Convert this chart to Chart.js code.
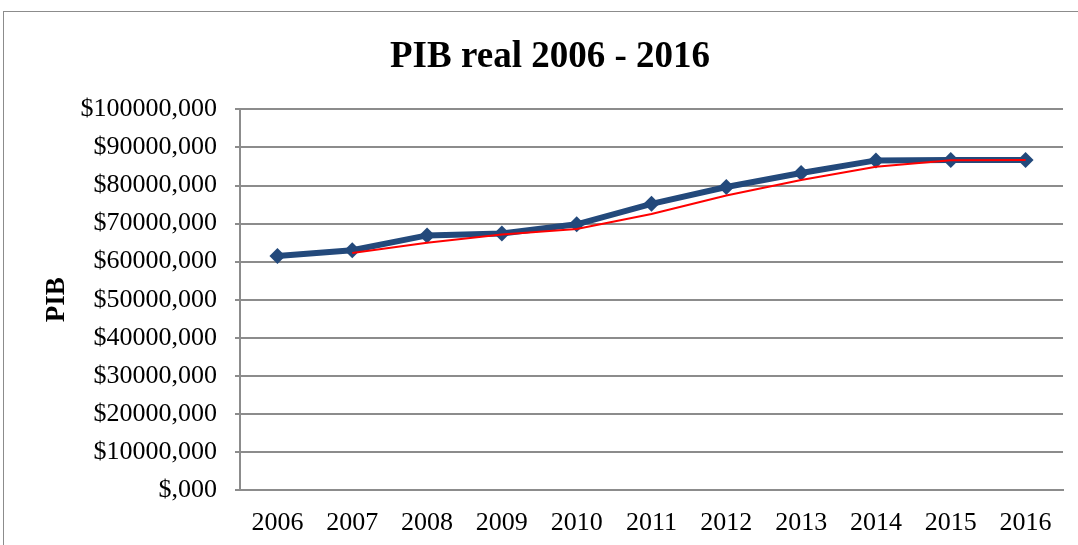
<!DOCTYPE html>
<html>
<head>
<meta charset="utf-8">
<script src="https://cdn.jsdelivr.net/npm/chart.js@4/dist/chart.umd.min.js"></script>
<style>
  html, body { margin: 0; padding: 0; background: #fff; overflow: hidden; }
  #wrap { position: relative; width: 1078px; height: 545px; }
  #frame { position: absolute; left: 3px; top: 11px; width: 1090px; height: 600px; border: 1px solid #8c8c8c; }
  canvas { position: absolute; left: 0; top: 0; }
</style>
</head>
<body>
<div id="wrap">
  <div id="frame"></div>
  <canvas id="pibChart" width="1078" height="545"></canvas>
</div>
<script>
// años
const years = ["2006", "2007", "2008", "2009", "2010", "2011", "2012", "2013", "2014", "2015", "2016"];
// PIB real
const pibReal = [61500, 63000, 66900, 67400, 69800, 75200, 79600, 83300, 86600, 86700, 86700];
// línea de tendencia roja
const pibTrend = [null, 62250, 64950, 67150, 68600, 72500, 77400, 81450, 84950, 86650, 86700];

const serif = "'Liberation Serif', 'Times New Roman', serif";

const ctx = document.getElementById("pibChart").getContext("2d");
new Chart(ctx, {
  type: "line",
  data: {
    labels: years,
    datasets: [
      {
        label: "Tendencia",
        data: pibTrend,
        borderColor: "#ff0000",
        borderWidth: 2,
        pointRadius: 0,
        tension: 0,
        fill: false
      },
      {
        label: "PIB",
        data: pibReal,
        borderColor: "#23497b",
        backgroundColor: "#23497b",
        borderWidth: 6,
        pointStyle: "rectRot",
        pointRadius: 8,
        pointBorderWidth: 0,
        tension: 0,
        fill: false
      }
    ]
  },
  options: {
    responsive: false,
    animation: false,
    layout: { padding: { left: 37, right: 15, top: 0, bottom: 0 } },
    plugins: {
      legend: { display: false },
      tooltip: { enabled: false },
      title: {
        display: true,
        text: "PIB real 2006 - 2016",
        color: "#000",
        font: { family: serif, size: 37, weight: "bold" },
        padding: { top: 35, bottom: 30 }
      }
    },
    scales: {
      x: {
        offset: true,
        grid: { display: false },
        border: { display: true, color: "#8c8c8c", width: 2 },
        ticks: {
          color: "#000",
          font: { family: serif, size: 26 },
          padding: 10,
          maxRotation: 0
        },
        afterFit: s => { s.height = 55; }
      },
      y: {
        min: 0,
        max: 100000,
        grid: { color: "#8c8c8c", lineWidth: 2, tickLength: 5 },
        border: { display: true, color: "#8c8c8c", width: 2 },
        ticks: {
          stepSize: 10000,
          color: "#000",
          font: { family: serif, size: 26 },
          padding: 18,
          callback: v => "$" + (v === 0 ? "" : v) + ",000"
        },
        title: {
          display: true,
          text: "PIB",
          color: "#000",
          font: { family: serif, size: 27, weight: "bold" }
        },
        afterFit: s => { s.width = 203; }
      }
    }
  }
});
</script>
</body>
</html>
